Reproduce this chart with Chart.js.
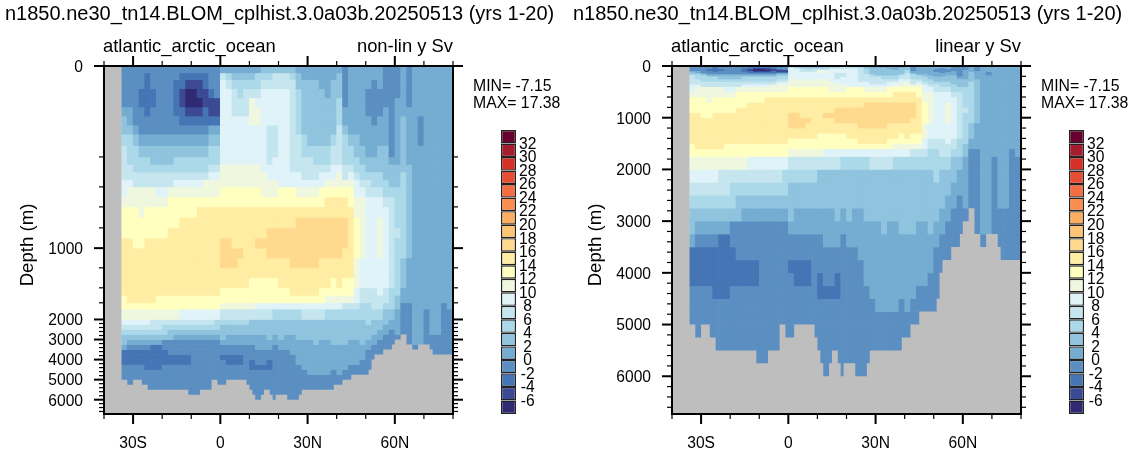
<!DOCTYPE html>
<html>
<head>
<meta charset="utf-8">
<script src="https://cdn.jsdelivr.net/npm/chart.js@4"></script>
<style>
  body { margin: 0; background: #fff; width: 1134px; height: 454px; overflow: hidden; position: relative; }
  canvas { position: absolute; }
</style>
</head>
<body>
<canvas id="panelA" width="566" height="454" style="left:0;top:0"></canvas>
<canvas id="panelB" width="566" height="454" style="left:568px;top:0"></canvas>
<canvas id="barA" width="60" height="324" style="left:490px;top:110px"></canvas>
<canvas id="barB" width="60" height="324" style="left:1058px;top:110px"></canvas>
<script>
const titleText = 'n1850.ne30_tn14.BLOM_cplhist.3.0a03b.20250513 (yrs 1-20)'
const regionText = 'atlantic_arctic_ocean'
const depthText = 'Depth (m)'
const minText = 'MIN= -7.15'
const maxText = 'MAX= 17.38'

const levels = [-6,-4,-2,0,2,4,6,8,10,12,14,16,18,20,22,24,26,28,30,32]
const levelColors = ['#2f2a73','#3b4a92','#4575b4','#5b8fc2','#74add1','#8fc3de','#abd9e9','#c5e5ef','#e0f3f8','#eff8df',
  '#ffffbf','#feeda3','#fed98e','#fec575','#fdae61','#fa8d50','#f46d43','#e54e35','#d73027','#a51c2d','#67002f']

const latCenters = [-33,-31,-29,-27,-25,-23,-21,-19,-17,-15,-13,-11,-9,-7,-5,-3,-1,
  1,3,5,7,9,11,13,15,17,19,21,23,25,27,29,31,33,35,37,39,
  41,43,45,47,49,51,53,55,57,59,61,63,65,67,69,71,73,75,77,79]

const depthEdges = [0,15,30,50,70,90,110,130,150,175,200,250,300,350,400,500,600,700,800,900,1000,
  1100,1200,1300,1400,1500,1600,1750,2000,2250,2500,2750,3000,3250,3500,3750,4000,4250,4500,4750,5000,6730]

// sea floor steps: depth holds from this latitude to the next one
const floorLat = [-40,-34,-32,-30,-27,-25,-11,-7,-3,-1,2,9,10,11,12,14,15,17,18,19,23,27,28,39,42,45,51,52,53,56,59,60,62,64,66,68,72,73,80]
const floorDepth = [0,5000,5250,5000,5250,5500,5750,5500,5000,5250,5000,5250,5500,5750,6000,5750,5500,5750,6000,5750,6000,5750,5500,5250,5000,4750,4500,4000,3750,3500,3250,3000,2750,3250,3500,3250,3500,3750,3750]

// overturning (Sv) read per depth row, lat 33S-1S
const mocSouth = [
  [-1,-1,-1,-1,-1,-1,-1,-1,-1,-1,-1,-1,-1,-1,-1,-1,-1],
  [-1,-1,-1,-1,-3,-1,-1,-1,-1,-1,-3,-3,-3,-3,-3,-1,-1],
  [-1,-1,-1,-1,-3,-1,-1,-1,-1,-3,-3,-5,-5,-5,-3,-1,-1],
  [-1,-1,-1,-3,-3,-3,-1,-1,-1,-3,-5,-7,-7,-5,-5,-3,-1],
  [-1,-1,-1,-3,-3,-3,-1,-1,-1,-3,-5,-7,-7,-7,-5,-5,-5],
  [1,1,-1,-1,-3,-1,-1,-1,-1,-3,-3,-5,-5,-5,-3,-5,-5],
  [3,1,-1,-1,-1,-1,-1,-1,-1,-1,-3,-3,-3,-3,-3,-3,-3],
  [3,3,1,-1,-1,-1,-1,-1,-1,-1,-1,-1,-1,-1,-1,1,1],
  [5,5,3,1,1,1,1,1,1,1,1,1,1,1,1,3,3],
  [7,5,5,3,3,3,3,3,3,3,3,3,3,3,3,5,5],
  [7,5,5,5,5,3,3,3,3,5,5,5,5,5,5,5,5],
  [7,7,5,5,5,5,5,5,5,5,5,5,5,5,5,7,7],
  [7,7,7,7,7,7,7,7,7,7,7,7,7,7,7,9,9],
  [9,9,7,7,7,7,7,7,7,9,9,9,9,9,11,11,11],
  [9,11,11,11,11,11,9,9,11,11,11,11,11,11,11,11,11],
  [11,11,11,11,11,11,11,11,13,13,13,13,13,13,13,13,13],
  [13,13,13,11,13,13,13,13,13,13,13,13,13,15,15,15,15],
  [13,13,13,13,13,13,13,13,13,13,15,15,15,15,15,15,15],
  [13,13,13,13,13,13,13,13,15,15,15,15,15,15,15,15,15],
  [15,15,13,13,15,15,15,15,15,15,15,15,15,15,15,15,15],
  [15,15,15,15,15,15,15,15,15,15,15,15,15,15,15,15,15],
  [15,15,15,15,15,15,15,15,15,15,15,15,15,15,15,15,15],
  [15,15,15,15,15,15,15,15,15,15,15,15,15,15,15,15,15],
  [15,15,15,15,15,15,15,15,15,15,15,15,15,15,15,15,15],
  [15,15,15,15,15,15,15,15,15,15,15,15,15,15,15,15,15],
  [13,15,15,15,15,15,13,13,13,13,13,13,13,13,13,13,13],
  [13,13,13,13,13,13,13,13,13,13,13,13,13,13,13,13,13],
  [11,11,11,11,11,11,11,11,11,11,9,9,9,9,9,9,9],
  [9,9,9,9,9,7,7,7,7,7,7,7,7,7,7,7,5],
  [7,7,7,7,7,7,7,5,5,5,5,5,5,5,5,5,5],
  [5,5,5,5,5,5,5,5,3,3,3,3,3,3,3,3,3],
  [3,3,3,3,3,3,3,3,3,1,1,1,1,1,1,1,1],
  [3,1,1,1,1,1,1,-1,-1,-1,-1,-1,-1,-1,-1,-1,-1],
  [1,-1,-1,-1,-1,-3,-3,-1,-1,-1,-1,-1,-1,-1,-1,-1,-1],
  [-3,-3,-3,-3,-3,-3,-3,-3,-1,-1,-1,-1,-1,-1,-1,-1,-1],
  [-3,-3,-3,-3,-3,-3,-3,-3,-3,-3,-3,-3,-1,-1,-1,-1,-1],
  [-3,-3,-3,-3,-3,-3,-3,-3,-3,-3,-3,-3,-1,-1,-1,-1,-1],
  [-1,-1,-1,-1,-3,-3,-3,-1,-1,-1,-1,-1,-1,-1,-1,-1,-1],
  [-1,-1,-1,-1,-1,-1,-1,-1,-1,-1,-1,-1,-1,-1,-1,-1,-1],
  [-1,-1,-1,-1,-1,-1,-1,-1,-1,-1,-1,-1,-1,-1,-1,-1,-1],
  [-1,-1,-1,-1,-1,-1,-1,-1,-1,-1,-1,-1,-1,-1,-1,-1,-1]
]

// lat 1N-39N
const mocMid = [
  [1,1,1,1,1,1,1,3,3,3,3,3,3,1,1,1,1,1,1,1],
  [7,5,3,3,3,3,5,5,5,7,7,7,5,3,1,1,1,1,1,1],
  [9,7,5,5,5,5,5,7,7,7,7,7,7,3,3,3,3,1,1,3],
  [9,9,7,5,7,7,7,9,9,9,9,9,7,5,3,3,3,3,1,3],
  [9,9,7,7,7,11,9,9,9,9,9,9,7,5,3,3,3,3,3,3],
  [9,9,7,7,7,11,11,9,9,9,9,9,7,5,3,3,3,3,3,3],
  [9,9,9,9,9,11,11,9,9,9,9,9,7,5,3,3,3,3,3,3],
  [9,9,9,9,9,9,9,9,7,7,9,9,7,5,3,3,3,3,3,3],
  [9,9,9,9,9,9,9,9,7,7,9,9,7,7,5,3,3,3,3,5],
  [9,9,9,9,9,9,9,9,7,7,9,9,7,7,5,5,5,5,5,7],
  [9,9,9,9,9,9,9,9,7,9,9,9,7,7,7,7,5,5,5,7],
  [11,11,11,11,11,11,11,9,9,9,9,9,7,7,7,7,7,7,7,9],
  [11,11,11,11,11,11,11,11,9,9,9,9,9,9,7,7,7,9,9,9],
  [11,11,11,11,11,11,11,11,11,11,9,9,9,9,9,9,9,9,11,11],
  [13,13,13,13,13,13,13,11,11,11,13,13,13,11,11,11,11,13,13,13],
  [13,13,13,13,13,13,13,13,13,13,13,13,13,13,13,13,13,13,15,15],
  [15,15,15,15,15,15,15,15,15,15,15,15,15,15,15,15,15,15,15,15],
  [15,15,15,15,15,15,15,15,15,15,15,15,15,17,17,17,17,17,17,17],
  [15,15,15,15,15,15,15,15,17,17,17,17,17,17,17,17,17,17,17,17],
  [17,17,15,15,15,15,17,17,17,17,17,17,17,17,17,17,17,17,17,17],
  [17,17,17,17,15,15,15,15,17,17,17,17,17,17,17,17,17,17,17,17],
  [17,17,17,15,15,15,15,15,15,15,15,15,17,17,17,17,17,15,15,15],
  [15,15,15,15,15,15,15,15,15,15,15,15,15,15,15,15,15,15,15,15],
  [15,15,15,15,15,13,13,13,13,13,15,15,15,15,15,15,15,15,15,13],
  [13,13,13,13,13,13,13,13,13,13,13,13,15,15,15,15,15,13,13,13],
  [13,13,13,13,13,13,13,13,13,13,13,13,13,13,13,13,13,13,11,11],
  [11,11,11,11,11,11,9,9,9,9,9,9,9,9,9,9,9,9,9,9],
  [7,7,7,7,7,7,7,7,7,5,5,5,5,5,7,7,7,7,5,5],
  [5,5,5,5,5,3,3,3,3,3,3,3,3,3,3,3,3,3,3,3],
  [3,3,3,3,3,3,3,3,3,3,3,3,3,3,3,3,3,3,3,3],
  [3,3,3,3,3,3,3,3,3,3,3,3,3,3,3,3,3,3,3,3],
  [3,1,1,1,1,1,1,1,3,1,3,1,1,3,3,3,3,3,3,3],
  [1,1,1,1,1,1,1,1,1,1,1,1,1,1,1,1,3,1,1,3],
  [-1,-1,-1,-1,-1,-1,1,1,1,-1,1,1,1,1,1,1,1,1,1,1],
  [-1,-1,-1,-1,-1,-1,-1,-1,-1,-1,-1,-1,1,1,1,1,1,1,1,1],
  [-3,-3,-3,-3,-1,-1,-1,-1,-1,-1,-1,-1,-1,1,1,1,1,1,1,1],
  [-1,-3,-3,-3,-1,-3,-1,-1,-3,-1,-1,-1,-1,1,1,1,1,1,1,1],
  [-1,-1,-1,-1,-1,-3,-3,-3,-3,-1,-1,-1,-1,-1,1,1,1,1,1,1],
  [-1,-1,-1,-1,-1,-1,-1,-1,-1,-1,-1,-1,-1,-1,-1,1,1,1,1,-1],
  [-1,-1,-1,-1,-1,-1,-1,-1,-1,-1,-1,-1,-1,-1,-1,-1,-1,-1,-1,-1],
  [-1,-1,-1,-1,-1,-1,-1,-1,-1,-1,-1,-1,-1,-1,-1,-1,-1,-1,-1,-1]
]

// lat 41N-79N
const mocNorth = [
  [1,-1,1,1,1,1,1,1,-1,-1,-1,1,-1,1,1,1,1,1,1,1],
  [3,-1,1,1,1,1,1,1,-1,-1,-1,1,-1,1,1,1,1,1,1,1],
  [3,-1,1,1,1,1,-1,1,-1,-1,-1,1,-1,1,1,1,1,1,1,1],
  [3,-1,1,1,1,-1,-1,-1,-1,-1,-1,1,-1,1,1,1,1,1,1,1],
  [5,-1,1,1,1,-1,-1,-1,-1,-1,1,1,-1,1,1,1,1,1,1,1],
  [5,1,1,1,1,-1,-1,-1,1,-1,1,1,1,1,1,1,1,1,1,1],
  [5,1,1,1,1,1,-1,1,1,-1,1,3,1,1,-1,1,1,1,1,1],
  [7,3,1,1,1,1,1,1,1,-1,1,3,1,1,-1,1,1,1,1,1],
  [7,5,3,3,1,1,1,1,1,-1,1,3,1,1,-1,1,1,1,1,1],
  [7,5,5,3,3,1,1,3,3,-1,1,3,1,1,1,1,1,1,1,1],
  [7,5,5,5,3,3,3,3,3,1,1,3,1,1,1,1,1,1,1,1],
  [9,7,7,5,5,3,3,3,3,3,3,3,3,1,1,1,1,1,1,1],
  [11,7,9,7,5,5,5,5,3,3,3,5,3,1,1,1,1,1,1,1],
  [11,11,11,9,7,7,5,5,5,3,3,5,3,1,1,1,1,1,1,1],
  [13,13,13,9,9,7,7,7,5,5,5,5,3,1,1,1,1,1,1,1],
  [15,15,13,11,11,9,9,9,7,7,5,5,3,1,1,1,1,1,1,1],
  [15,15,15,11,11,9,9,9,9,7,5,5,3,1,1,1,1,1,1,1],
  [17,17,15,13,11,9,9,11,9,7,5,5,3,1,1,1,1,1,1,1],
  [17,17,15,13,11,9,9,11,9,7,7,5,3,1,1,1,1,1,1,1],
  [17,17,15,13,11,9,9,11,9,7,5,5,3,1,1,1,1,1,1,1],
  [17,15,15,13,11,9,9,11,9,7,5,5,3,1,1,1,1,1,1,1],
  [15,15,15,11,9,9,9,9,9,7,5,3,1,1,1,1,1,1,1,1],
  [15,15,15,11,9,9,9,9,9,7,5,3,1,1,1,1,1,1,1,1],
  [15,13,13,11,9,9,9,9,9,7,5,3,1,1,1,1,1,1,1,1],
  [13,13,13,9,7,7,7,9,7,5,5,1,1,1,1,1,1,1,1,1],
  [11,11,11,9,7,7,7,7,7,5,3,1,1,1,1,1,1,1,1,1],
  [9,7,7,7,5,5,7,7,5,5,3,-1,-1,1,1,1,1,1,-1,1],
  [5,5,5,5,5,5,5,5,3,3,1,-1,-1,1,1,-1,1,1,-1,-1],
  [3,3,3,3,3,5,3,3,3,1,1,-1,-1,1,1,-1,1,1,-1,-1],
  [3,3,3,3,3,3,3,3,1,1,1,-1,-1,1,1,-1,1,1,-1,-1],
  [3,3,3,3,3,3,3,1,1,-1,1,-1,-1,1,1,-1,1,1,-1,-1],
  [3,3,3,3,3,3,1,1,-1,-1,-1,-1,-1,1,1,-1,-1,-1,-1,-1],
  [3,3,1,1,3,1,1,-1,-1,-1,-1,-1,-1,1,1,-1,-1,-1,-1,-1],
  [1,1,1,1,1,1,-1,-1,-1,-1,-1,-1,-1,-1,-1,-1,-1,-1,-1,-1],
  [1,1,1,1,1,-1,-1,-1,-1,-1,-1,-1,-1,-1,-1,-1,-1,-1,-1,-1],
  [1,1,1,1,1,-1,-1,-1,-1,-1,-1,-1,-1,-1,-1,-1,-1,-1,-1,-1],
  [1,1,1,1,-1,-1,-1,-1,-1,-1,-1,-1,-1,-1,-1,-1,-1,-1,-1,-1],
  [1,1,-1,-1,-1,-1,-1,-1,-1,-1,-1,-1,-1,-1,-1,-1,-1,-1,-1,-1],
  [1,-1,-1,-1,-1,-1,-1,-1,-1,-1,-1,-1,-1,-1,-1,-1,-1,-1,-1,-1],
  [-1,-1,-1,-1,-1,-1,-1,-1,-1,-1,-1,-1,-1,-1,-1,-1,-1,-1,-1,-1],
  [-1,-1,-1,-1,-1,-1,-1,-1,-1,-1,-1,-1,-1,-1,-1,-1,-1,-1,-1,-1]
]

// axis ticks
const latMajor = [-30,0,30,60]
const latLabels = ['30S','0','30N','60N']
const latMinor = [-40,-20,-10,10,20,40,50,70,80]
const nonlinMajor = [0,1000,2000,3000,4000,5000,6000]
const nonlinMinor = [200,400,600,800,1200,1400,1600,2200,2400,2600,2800,3200,3400,3600,3800,4200,4400,4600,4800,5200,5400,5600,5800,6200,6400,6600]
const linearMajor = [0,1000,2000,3000,4000,5000,6000]
const linearMinor = [200,400,600,800,1200,1400,1600,1800,2200,2400,2600,2800,3200,3400,3600,3800,4200,4400,4600,4800,5200,5400,5600,5800,6200,6400,6600]

// depth axis of the left panel: depth -> share of the axis length
const depthKnots = [0,200,400,600,800,1000,1200,1400,1600,2000,6000,6730]
const shareKnots = [0,91,121,141,162,182.3,202,222,237,253.7,334,348.3].map(p => p / 348.3)

class DepthScale extends Chart.LinearScale {
  getPixelForValue(value) {
    if (value === null || value === undefined) return NaN
    let i = 0
    while (i < depthKnots.length - 2 && value > depthKnots[i + 1]) i++
    const f = (value - depthKnots[i]) / (depthKnots[i + 1] - depthKnots[i])
    return this.getPixelForDecimal(shareKnots[i] + f * (shareKnots[i + 1] - shareKnots[i]))
  }
  getValueForPixel(pixel) {
    const d = this.getDecimalForPixel(pixel)
    let i = 0
    while (i < shareKnots.length - 2 && d > shareKnots[i + 1]) i++
    const f = (d - shareKnots[i]) / (shareKnots[i + 1] - shareKnots[i])
    return depthKnots[i] + f * (depthKnots[i + 1] - depthKnots[i])
  }
}
DepthScale.id = 'depth'
DepthScale.defaults = Chart.LinearScale.defaults
Chart.register(DepthScale)

Chart.defaults.font.family = '"Liberation Sans", Arial, sans-serif'
Chart.defaults.color = '#000'
const tickFont = { size: 15.6 }

const colorFor = v => {
  const i = levels.findIndex(l => v < l)
  return levelColors[i < 0 ? levels.length : i]
}

const makeDatasets = () => {
  const rows = mocSouth.map((r, i) => r.concat(mocMid[i], mocNorth[i]))
  const datasets = rows.map((row, i) => ({
    type: 'bar',
    order: 1,
    grouped: false,
    barPercentage: 1,
    categoryPercentage: 1,
    borderWidth: 0,
    backgroundColor: row.map(colorFor),
    data: row.map((v, j) => ({ x: latCenters[j], y: [depthEdges[i], depthEdges[i + 1]] }))
  }))
  datasets.push({
    type: 'line',
    order: 0,
    stepped: true,
    pointRadius: 0,
    borderWidth: 0,
    backgroundColor: '#bebebe',
    fill: { value: 6730 },
    data: floorLat.map((x, i) => ({ x: x, y: floorDepth[i] }))
  })
  return datasets
}

const panelPlugin = (rightText, major, minor) => ({
  id: 'panelDecor',
  afterDraw(chart) {
    const ctx = chart.ctx
    const a = chart.chartArea
    const xs = chart.scales.x
    const ys = chart.scales.y
    const line = (x0, y0, x1, y1, w) => {
      ctx.lineWidth = w
      ctx.beginPath()
      ctx.moveTo(x0, y0)
      ctx.lineTo(x1, y1)
      ctx.stroke()
    }
    ctx.save()
    ctx.strokeStyle = '#000'
    ctx.lineWidth = 2
    ctx.strokeRect(a.left, a.top, a.right - a.left, a.bottom - a.top)
    latMajor.forEach(v => {
      const p = xs.getPixelForValue(v)
      line(p, a.top, p, a.top - 10, 2)
      line(p, a.bottom, p, a.bottom + 10, 2)
    })
    latMinor.forEach(v => {
      const p = xs.getPixelForValue(v)
      line(p, a.top, p, a.top - 5, 1.2)
      line(p, a.bottom, p, a.bottom + 5, 1.2)
    })
    major.forEach(v => {
      const p = ys.getPixelForValue(v)
      line(a.left, p, a.left - 10, p, 2)
      line(a.right, p, a.right + 10, p, 2)
    })
    minor.forEach(v => {
      const p = ys.getPixelForValue(v)
      line(a.left, p, a.left - 5, p, 1.2)
      line(a.right, p, a.right + 5, p, 1.2)
    })
    ctx.fillStyle = '#000'
    ctx.textBaseline = 'alphabetic'
    ctx.textAlign = 'left'
    ctx.font = '20px "Liberation Sans"'
    ctx.fillText(titleText, 5, 20)
    ctx.font = '18.4px "Liberation Sans"'
    ctx.fillText(regionText, 103, 52)
    ctx.textAlign = 'right'
    ctx.fillText(rightText, 453, 52)
    ctx.textAlign = 'left'
    ctx.font = '15.8px "Liberation Sans"'
    ctx.fillText(minText, 473, 91)
    ctx.fillText(maxText, 473, 108)
    ctx.font = '18.6px "Liberation Sans"'
    ctx.translate(33, 245)
    ctx.rotate(-Math.PI / 2)
    ctx.textAlign = 'center'
    ctx.fillText(depthText, 0, 0)
    ctx.restore()
  }
})

const makePanel = (id, yType, major, minor, rightText) => new Chart(document.getElementById(id), {
  type: 'bar',
  data: { datasets: makeDatasets() },
  plugins: [panelPlugin(rightText, major, minor)],
  options: {
    responsive: false,
    animation: false,
    events: [],
    devicePixelRatio: 1,
    layout: { padding: { top: 66, right: 113, left: 0, bottom: 0 } },
    plugins: { legend: { display: false }, tooltip: { enabled: false }, filler: { drawTime: 'beforeDatasetDraw' } },
    scales: {
      x: {
        type: 'linear',
        min: -40,
        max: 80,
        offset: false,
        grid: { display: false, drawTicks: false, offset: false },
        border: { display: false },
        afterFit: s => { s.height = 40 },
        afterBuildTicks: s => { s.ticks = latMajor.map(v => ({ value: v })) },
        ticks: {
          font: tickFont,
          padding: 20,
          autoSkip: false,
          maxRotation: 0,
          callback: v => latLabels[latMajor.indexOf(v)]
        }
      },
      y: {
        type: yType,
        min: 0,
        max: 6730,
        reverse: true,
        grid: { display: false, drawTicks: false },
        border: { display: false },
        afterFit: s => { s.width = 104 },
        afterBuildTicks: s => { s.ticks = major.map(v => ({ value: v })) },
        ticks: {
          font: tickFont,
          padding: 21,
          labelOffset: 1.5,
          autoSkip: false,
          callback: v => String(v)
        }
      }
    }
  }
})

const makeColorbar = id => new Chart(document.getElementById(id), {
  type: 'bar',
  data: {
    labels: [''],
    datasets: levelColors.map((c, i) => ({
      grouped: false,
      barPercentage: 1,
      categoryPercentage: 1,
      backgroundColor: c,
      borderColor: '#222',
      borderWidth: 1.4,
      borderSkipped: false,
      inflateAmount: 0,
      data: [[i, i + 1]]
    }))
  },
  options: {
    responsive: false,
    animation: false,
    events: [],
    devicePixelRatio: 1,
    layout: { padding: { top: 20, bottom: 20, left: 11, right: 0 } },
    plugins: { legend: { display: false }, tooltip: { enabled: false } },
    scales: {
      x: { display: false },
      y: {
        position: 'right',
        min: 0,
        max: levelColors.length,
        grid: { display: false, drawTicks: false },
        border: { display: false },
        afterFit: s => { s.width = 34 },
        afterBuildTicks: s => { s.ticks = levels.map((v, i) => ({ value: i + 1 })) },
        ticks: {
          font: tickFont,
          padding: 3,
          labelOffset: 1,
          crossAlign: 'center',
          autoSkip: false,
          callback: v => String(levels[v - 1])
        }
      }
    }
  }
})

makePanel('panelA', 'depth', nonlinMajor, nonlinMinor, 'non-lin y Sv')
makePanel('panelB', 'linear', linearMajor, linearMinor, 'linear y Sv')
makeColorbar('barA')
makeColorbar('barB')
</script>
</body>
</html>
